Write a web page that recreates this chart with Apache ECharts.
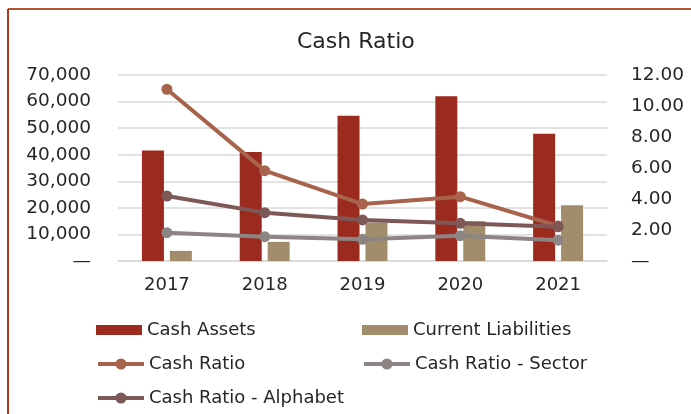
<!DOCTYPE html>
<html>
<head>
<meta charset="utf-8">
<script src="https://cdn.jsdelivr.net/npm/echarts@6/dist/echarts.min.js"></script>
<style>
html,body{margin:0;padding:0;background:#fff;}
#c{width:691px;height:414px;}
</style>
</head>
<body>
<div id="c"></div>
<script>
var years = ['2017', '2018', '2019', '2020', '2021'];
var cashAssets = [41600, 41000, 54700, 62000, 47900];
var currentLiabilities = [3800, 7200, 14500, 15000, 21000];
var cashRatio = [11.08, 5.83, 3.67, 4.15, 2.26];
var sectorRatio = [1.83, 1.57, 1.40, 1.63, 1.34];
var alphabetRatio = [4.19, 3.12, 2.65, 2.43, 2.21];
var leftTicks = {min: 0, max: 70000, interval: 10000};
var rightTicks = {min: 0, max: 12, interval: 2};

var FONT = 'DejaVu Sans';
var C_CASH = '#9B2B1F', C_CL = '#A18D6C', C_RATIO = '#A8634D', C_SECTOR = '#8D8484', C_ALPHA = '#7E5757';
var chart = echarts.init(document.getElementById('c'), null, {renderer: 'canvas'});
function lineSeries(name, data, color) {
  return {
    name: name, type: 'line', yAxisIndex: 1, data: data,
    symbol: 'circle', symbolSize: 11,
    lineStyle: {color: color, width: 4},
    itemStyle: {color: color},
    emphasis: {disabled: true}
  };
}
function legItem(name, color, isLine) {
  if (isLine) return {name: name, lineStyle: {color: color, width: 4}, itemStyle: {color: color}};
  return {name: name, icon: 'rect', itemStyle: {color: color}};
}
var legText = {fontFamily: FONT, fontSize: 18, color: '#262626', lineHeight: 20};
function legend(left, top, items, h) {
  return {left: left, top: top, orient: 'vertical', itemWidth: 46, itemHeight: h, itemGap: 14,
          data: items, textStyle: legText};
}
chart.setOption({
  animation: false,
  backgroundColor: '#ffffff',
  title: {
    text: 'Cash Ratio', left: 292, top: 26,
    textStyle: {fontFamily: FONT, fontSize: 22, fontWeight: 'normal', color: '#262626'}
  },
  graphic: [
    {type: 'line', shape: {x1: 8, y1: 9, x2: 691, y2: 9}, style: {stroke: '#B5522E', lineWidth: 2}},
    {type: 'line', shape: {x1: 8, y1: 9, x2: 8, y2: 414}, style: {stroke: '#A8391E', lineWidth: 2}}
  ],
  legend: [
    legend(91, 315, [legItem('Cash Assets', C_CASH, false)], 10),
    legend(357, 315, [legItem('Current Liabilities', C_CL, false)], 10),
    legend(91, 349, [legItem('Cash Ratio', C_RATIO, true), legItem('Cash Ratio - Alphabet', C_ALPHA, true)], 14),
    legend(357, 349, [legItem('Cash Ratio - Sector', C_SECTOR, true)], 14)
  ],
  grid: {left: 118, right: 84, top: 75, bottom: 153, containLabel: false},
  xAxis: {
    type: 'category', data: years,
    axisLine: {lineStyle: {color: '#D9D9D9', width: 1.5}},
    axisTick: {show: false},
    axisLabel: {fontFamily: FONT, fontSize: 18, color: '#262626', margin: 15}
  },
  yAxis: [
    {
      type: 'value', min: leftTicks.min, max: leftTicks.max, interval: leftTicks.interval,
      axisLine: {show: false}, axisTick: {show: false},
      splitLine: {lineStyle: {color: '#D9D9D9', width: 1.5}},
      axisLabel: {
        fontFamily: FONT, fontSize: 18.5, color: '#262626', margin: 27,
        formatter: function (v) { return v === 0 ? '—' : v.toLocaleString('en-US'); }
      }
    },
    {
      type: 'value', min: rightTicks.min, max: rightTicks.max, interval: rightTicks.interval,
      axisLine: {show: false}, axisTick: {show: false},
      splitLine: {show: false},
      axisLabel: {
        fontFamily: FONT, fontSize: 18.5, color: '#262626', margin: 24,
        formatter: function (v) { return v === 0 ? '—' : v.toFixed(2); }
      }
    }
  ],
  series: [
    {name: 'Cash Assets', type: 'bar', data: cashAssets, barWidth: 22, barGap: '27%',
     itemStyle: {color: C_CASH}, emphasis: {disabled: true}},
    {name: 'Current Liabilities', type: 'bar', data: currentLiabilities, barWidth: 22, barGap: '27%',
     itemStyle: {color: C_CL}, emphasis: {disabled: true}},
    lineSeries('Cash Ratio', cashRatio, C_RATIO),
    lineSeries('Cash Ratio - Sector', sectorRatio, C_SECTOR),
    lineSeries('Cash Ratio - Alphabet', alphabetRatio, C_ALPHA)
  ]
});
</script>
</body>
</html>
